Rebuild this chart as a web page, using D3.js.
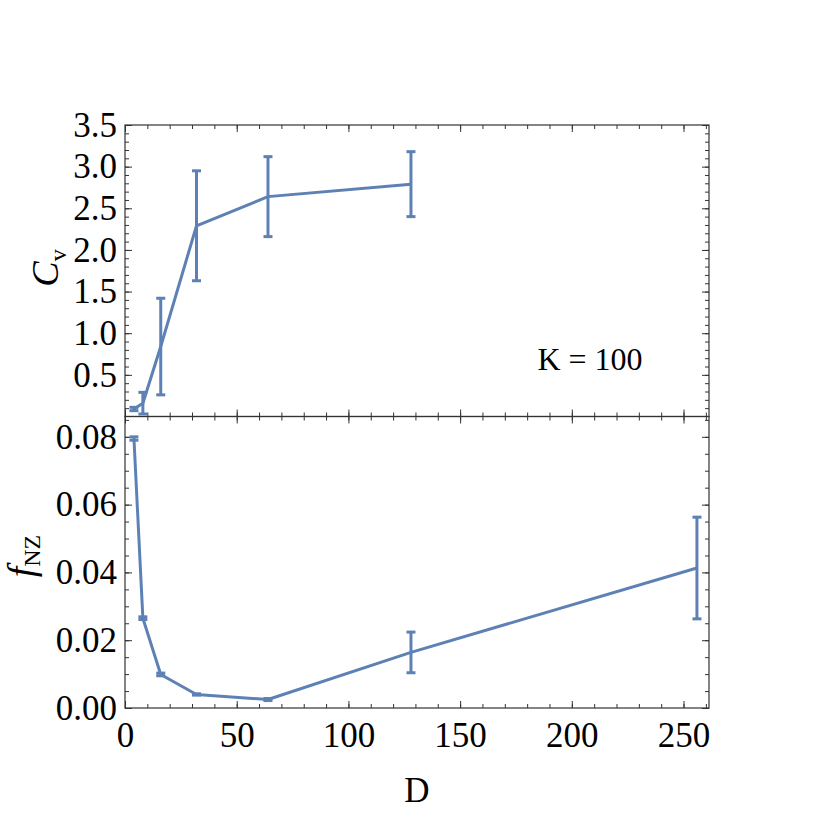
<!DOCTYPE html>
<html>
<head>
<meta charset="utf-8">
<script src="https://cdn.jsdelivr.net/npm/d3@7"></script>
<style>
  body { margin: 0; background: #fff; }
  text { font-family: "Liberation Serif", "Times New Roman", serif; }
</style>
</head>
<body>
<div id="chart"></div>
<script>
// data
var dTop = [4, 8, 16, 32, 64, 128];
var cv = [0.09, 0.16, 0.84, 2.29, 2.64, 2.79];
var cvErr = [0.02, 0.13, 0.58, 0.66, 0.48, 0.39];

var dBot = [4, 8, 16, 32, 64, 128, 256];
var fnz = [0.0795, 0.0265, 0.0099, 0.0040, 0.0025, 0.0164, 0.0413];
var fnzErr = [0.0005, 0.0004, 0.0004, 0.0002, 0.0003, 0.0060, 0.0150];

var xTicks = [0, 50, 100, 150, 200, 250];
var cvTicks = [0.5, 1.0, 1.5, 2.0, 2.5, 3.0, 3.5];
var fnzTicks = [0, 0.02, 0.04, 0.06, 0.08];

var width = 834, height = 834;
var left = 125, right = 709, top1 = 125, mid = 416.5, bot = 708;
var blue = "#5e81b5";

var svg = d3.select("#chart").append("svg")
    .attr("width", width)
    .attr("height", height);

var x = d3.scaleLinear().domain([0, 261.4]).range([left, right]);
var yTop = d3.scaleLinear().domain([0, 3.5]).range([mid, top1]);
var yBot = d3.scaleLinear().domain([0, 0.086]).range([bot, mid]);

var major = 7, minor = 4;

//Draws inward ticks (major + minor) on all four sides of a panel.
function frame(y, yMajor, yMinor, fmt, showX) {
    var y0 = y.range()[0], y1 = y.range()[1];
    var xMinor = d3.range(0, 261, 10);

    var g = svg.append("g");

    // left
    g.append("g").attr("transform", "translate(" + left + ",0)")
        .call(d3.axisLeft(y).tickValues(yMinor).tickSize(-minor).tickFormat(""));
    g.append("g").attr("class", "ylab").attr("transform", "translate(" + left + ",0)")
        .call(d3.axisLeft(y).tickValues(yMajor).tickSize(-major).tickPadding(8).tickFormat(fmt));
    // right
    g.append("g").attr("transform", "translate(" + right + ",0)")
        .call(d3.axisRight(y).tickValues(yMinor).tickSize(-minor).tickFormat(""));
    g.append("g").attr("transform", "translate(" + right + ",0)")
        .call(d3.axisRight(y).tickValues(yMajor).tickSize(-major).tickFormat(""));
    // top
    g.append("g").attr("transform", "translate(0," + y1 + ")")
        .call(d3.axisTop(x).tickValues(xMinor).tickSize(-minor).tickFormat(""));
    g.append("g").attr("transform", "translate(0," + y1 + ")")
        .call(d3.axisTop(x).tickValues(xTicks).tickSize(-major).tickFormat(""));
    // bottom
    g.append("g").attr("transform", "translate(0," + y0 + ")")
        .call(d3.axisBottom(x).tickValues(xMinor).tickSize(-minor).tickFormat(""));
    g.append("g").attr("class", "xlab").attr("transform", "translate(0," + y0 + ")")
        .call(d3.axisBottom(x).tickValues(xTicks).tickSize(-major).tickPadding(14)
            .tickFormat(showX ? d3.format("d") : ""));

    g.selectAll(".domain").remove();
    g.selectAll(".tick line").attr("stroke", "#333").attr("stroke-width", 1);
    g.selectAll(".tick text").attr("font-size", 35).attr("fill", "#000")
        .attr("font-family", "Liberation Serif");

    g.append("rect")
        .attr("x", left).attr("y", y1)
        .attr("width", right - left).attr("height", y0 - y1)
        .attr("fill", "none").attr("stroke", "#333").attr("stroke-width", 1.2);
}

function series(xs, ys, errs, y) {
    var pts = xs.map(function(d, i) { return { x: d, y: ys[i], e: errs[i] }; });
    var g = svg.append("g");

    g.append("path").datum(pts)
        .attr("fill", "none").attr("stroke", blue).attr("stroke-width", 3)
        .attr("stroke-linejoin", "round")
        .attr("d", d3.line().x(function(d) { return x(d.x); }).y(function(d) { return y(d.y); }));

    var eb = g.selectAll(".eb").data(pts).enter().append("g").attr("class", "eb")
        .attr("stroke", blue).attr("stroke-width", 3);
    eb.append("line")
        .attr("x1", function(d) { return x(d.x); }).attr("x2", function(d) { return x(d.x); })
        .attr("y1", function(d) { return y(d.y - d.e); }).attr("y2", function(d) { return y(d.y + d.e); });
    [-1, 1].forEach(function(s) {
        eb.append("line")
            .attr("x1", function(d) { return x(d.x) - 4.5; }).attr("x2", function(d) { return x(d.x) + 4.5; })
            .attr("y1", function(d) { return y(d.y + s * d.e); }).attr("y2", function(d) { return y(d.y + s * d.e); });
    });
}

frame(yTop, cvTicks, d3.range(0.1, 3.51, 0.1), d3.format(".1f"), false);
frame(yBot, fnzTicks, d3.range(0, 0.0861, 0.005), d3.format(".2f"), true);

series(dTop, cv, cvErr, yTop);
series(dBot, fnz, fnzErr, yBot);

// labels
svg.append("text").attr("x", 590).attr("y", 370)
    .attr("text-anchor", "middle").attr("font-size", 32)
    .text("K = 100");

svg.append("text").attr("x", (left + right) / 2).attr("y", 802)
    .attr("text-anchor", "middle").attr("font-size", 35)
    .text("D");

var cl = svg.append("text").attr("transform", "translate(58,268) rotate(-90)")
    .attr("text-anchor", "middle").attr("font-size", 38);
cl.append("tspan").attr("font-style", "italic").text("C");
cl.append("tspan").attr("font-size", 24).attr("dy", 8).text("v");

var fl = svg.append("text").attr("transform", "translate(34,556) rotate(-90)")
    .attr("text-anchor", "middle").attr("font-size", 38);
fl.append("tspan").attr("font-style", "italic").text("f");
fl.append("tspan").attr("font-size", 24).attr("dy", 6).text("NZ");
</script>
</body>
</html>
